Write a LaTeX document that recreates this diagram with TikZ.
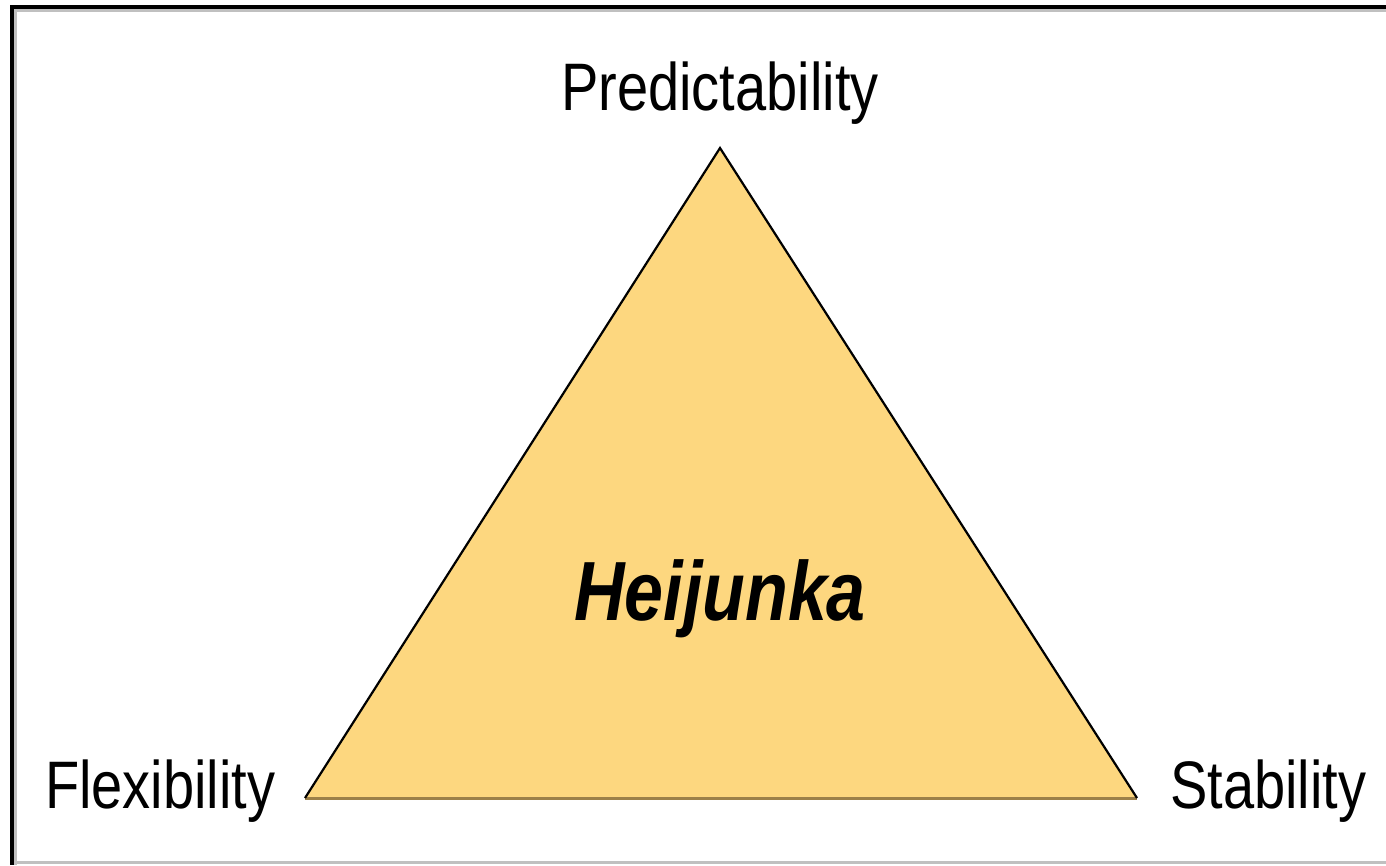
\documentclass[tikz,border=0pt]{standalone}
\usepackage{fontspec}
\setmainfont{Liberation Sans}
\usepackage{graphicx}
\usetikzlibrary{positioning}
\definecolor{heifill}{HTML}{FDD77F}
\definecolor{heibase}{HTML}{9C8048}
\definecolor{frameshade}{HTML}{C0C0C0}
\newcommand{\tallfont}[1]{\scalebox{1}[1.2]{#1}}
\begin{document}
\begin{tikzpicture}[
  x=1pt, y=-1pt,
  corner/.style={font=\fontsize{56}{60}\selectfont, inner sep=0pt, anchor=base west},
  center/.style={font=\fontsize{70}{80}\selectfont\bfseries\itshape, inner sep=0pt, anchor=base}
]
\useasboundingbox (0,0) rectangle (1386,865);
% frame
\draw[frameshade, line width=3pt] (14,10.5) -- (1386,10.5);
\draw[frameshade, line width=3pt] (15.5,10) -- (15.5,865);
\draw[frameshade, line width=3pt] (14,862) -- (1386,862);
\draw[black, line width=4pt] (10,7) -- (1386,7);
\draw[black, line width=4pt] (12,5) -- (12,865);
% triangle
\coordinate (top) at (720,148);
\coordinate (left) at (305,798);
\coordinate (right) at (1137,798);
\fill[heifill] (left) -- (top) -- (right) -- cycle;
\draw[heibase, line width=3pt] (left) -- (right);
\draw[black, line width=2.2pt, line join=miter] (left) -- (top) -- (right);
% labels
\node[corner, anchor=base] (pred) at (720,110) {\tallfont{Predictability}};
\node[corner] (flex) at (45,808) {\tallfont{Flexibility}};
\node[corner] (stab) at (1170,808) {\tallfont{Stability}};
\node[center] (hei) at (720,620) {\tallfont{Heijunka}};
\end{tikzpicture}
\end{document}
